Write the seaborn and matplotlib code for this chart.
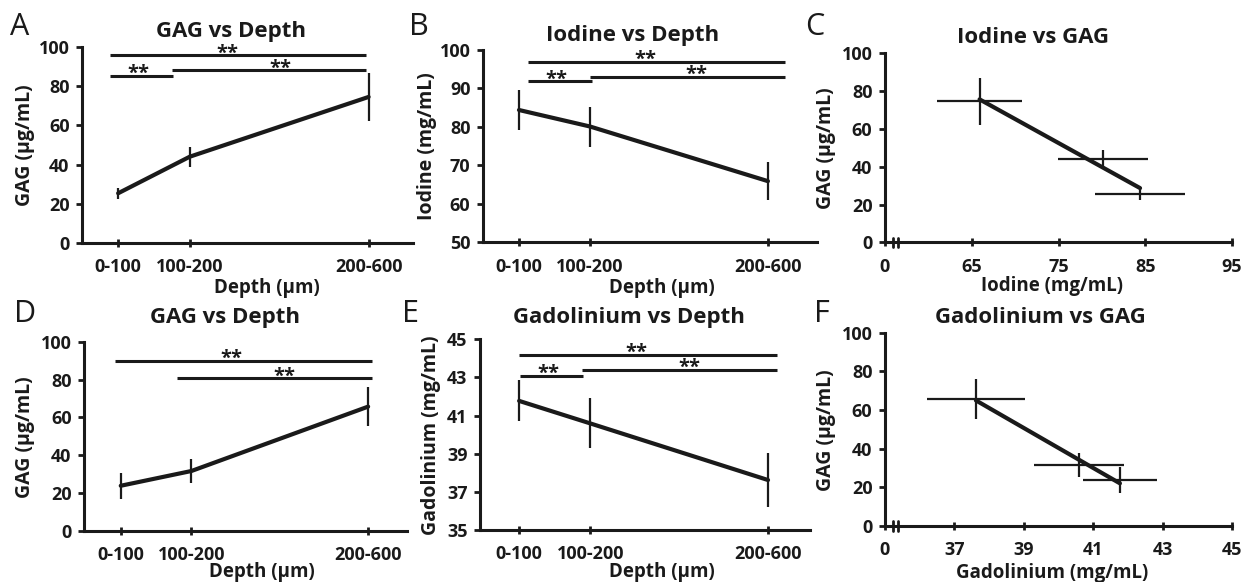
import matplotlib
matplotlib.use("Agg")
import matplotlib.pyplot as plt
import seaborn as sns

# ---------------------------------------------------------------------------
# Data
# ---------------------------------------------------------------------------

depth_labels = ["0-100", "100-200", "200-600"]
depth_mid = [50, 150, 400]          # interval midpoints, um

# iodine series (panels A-C)
gag_i = [25.3, 44.0, 74.6]
gag_i_err = [2.8, 5.1, 12.5]
iodine = [84.4, 80.1, 65.9]
iodine_err = [5.2, 5.2, 4.9]

# gadolinium series (panels D-F)
gag_g = [23.9, 31.7, 65.7]
gag_g_err = [6.8, 6.3, 10.3]
gad = [41.77, 40.59, 37.62]
gad_err = [1.07, 1.31, 1.41]

# significance brackets: (x from, x to, level, stars x)
sig_a = [(38, 397, 96.0, 202), (38, 126, 85.3, 78), (125, 397, 88.2, 276)]
sig_b = [(62, 424, 97.0, 227), (62, 152, 91.9, 103), (150, 424, 93.1, 300)]
sig_d = [(42, 405, 90.0, 207), (129, 405, 80.6, 282)]
sig_e = [(50, 412, 44.18, 215), (51, 140, 43.08, 91), (138, 412, 43.39, 290)]

gag_ticks = [0, 20, 40, 60, 80, 100]
iodine_depth_ticks = [50, 60, 70, 80, 90, 100]
gad_depth_ticks = [35, 37, 39, 41, 43, 45]
iodine_ticks = [55, 65, 75, 85, 95]
iodine_ticklabels = ["0", "65", "75", "85", "95"]
gad_ticks = [35, 37, 39, 41, 43, 45]
gad_ticklabels = ["0", "37", "39", "41", "43", "45"]

# ---------------------------------------------------------------------------
# Layout helpers (pixel coordinates of the 1248x582 picture)
# ---------------------------------------------------------------------------

W, H = 1248, 582
sns.set_theme(style="ticks")
plt.rcParams["font.family"] = ["Open Sans", "DejaVu Sans"]
plt.rcParams["font.weight"] = "bold"
plt.rcParams["axes.labelweight"] = "bold"
plt.rcParams["text.color"] = "k"
plt.rcParams["axes.labelcolor"] = "k"

fig = plt.figure(figsize=(W / 100, H / 100), dpi=100)


def add_axes(left, top, right, bottom):
    return fig.add_axes([left / W, 1 - bottom / H, (right - left) / W, (bottom - top) / H])


def fig_text(x, y, s, **kw):
    fig.text(x / W, 1 - y / H, s, **kw)


def style_axes(ax):
    for side in ("top", "right"):
        ax.spines[side].set_visible(False)
    for side in ("left", "bottom"):
        ax.spines[side].set_linewidth(2.2)
        ax.spines[side].set_color("k")
    ax.tick_params(axis="y", direction="out", length=4, width=2, pad=5,
                   labelsize=13, colors="k")
    ax.tick_params(axis="x", direction="inout", length=6, width=2, pad=8,
                   labelsize=13, colors="k")
    for lab in ax.get_xticklabels() + ax.get_yticklabels():
        lab.set_fontweight("bold")


def set_labels(ax, xlabel, ylabel, xpos, ypos):
    ax.set_xlabel(xlabel, fontsize=13.5, fontweight="bold", color="k")
    ax.set_ylabel(ylabel, fontsize=14, fontweight="bold", color="k")
    ax.xaxis.set_label_coords(xpos[0] / W, 1 - xpos[1] / H, transform=fig.transFigure)
    ax.xaxis.label.set_va("baseline")
    ax.yaxis.set_label_coords(ypos[0] / W, 1 - ypos[1] / H, transform=fig.transFigure)
    ax.yaxis.label.set_va("center")


def depth_panel(ax, y, yerr, sig, xlim, ylim, yticks):
    sns.lineplot(x=depth_mid, y=y, ax=ax, color="k", linewidth=3, errorbar=None)
    ax.errorbar(depth_mid, y, yerr=yerr, fmt="none", ecolor="k", elinewidth=1.6, capsize=0)
    for x0, x1, lvl, xs in sig:
        ax.plot([x0, x1], [lvl, lvl], color="k", lw=2.2, clip_on=False,
                solid_capstyle="butt")
        ax.annotate("**", (xs, lvl), xytext=(0, -2.4), textcoords="offset points",
                    ha="center", va="baseline", fontsize=14.5, fontweight="bold",
                    color="k", annotation_clip=False)
    ax.set_xlim(*xlim)
    ax.set_ylim(*ylim)
    ax.set_xticks(depth_mid, depth_labels)
    ax.set_yticks(yticks)
    style_axes(ax)


def scatter_panel(ax, x, xerr, y, yerr, xticks, xticklabels):
    sns.regplot(x=x, y=y, ax=ax, ci=None, scatter=False, truncate=True,
                line_kws=dict(color="k", lw=3))
    ax.errorbar(x, y, xerr=xerr, yerr=yerr, fmt="none", ecolor="k",
                elinewidth=1.6, capsize=0)
    ax.set_xlim(xticks[0], xticks[-1])
    ax.set_ylim(0, 100)
    ax.set_xticks(xticks, xticklabels)
    ax.set_yticks(gag_ticks)
    # axis break marks near the origin
    for fx in (0.023, 0.037):
        ax.plot([fx, fx], [-0.024, 0.024], transform=ax.transAxes, color="k",
                lw=2, clip_on=False)
    style_axes(ax)


# ---------------------------------------------------------------------------
# Panels
# ---------------------------------------------------------------------------

ax_a = add_axes(82, 47.3, 413, 242.7)
depth_panel(ax_a, gag_i, gag_i_err, sig_a, (-0.5, 462), (0, 100), gag_ticks)
set_labels(ax_a, "Depth (µm)", "GAG (µg/mL)", (267, 293), (25, 145))

ax_b = add_axes(483, 50, 817, 242.3)
depth_panel(ax_b, iodine, iodine_err, sig_b, (-0.6, 469), (50, 100), iodine_depth_ticks)
set_labels(ax_b, "Depth (µm)", "Iodine (mg/mL)", (662, 293), (427, 146))

ax_c = add_axes(885, 53.3, 1232, 242.3)
scatter_panel(ax_c, iodine, iodine_err, gag_i, gag_i_err, iodine_ticks, iodine_ticklabels)
set_labels(ax_c, "Iodine (mg/mL)", "GAG (µg/mL)", (1052, 291), (826, 148))

ax_d = add_axes(84, 341.7, 407, 531)
depth_panel(ax_d, gag_g, gag_g_err, sig_d, (-2, 455), (0, 100), gag_ticks)
set_labels(ax_d, "Depth (µm)", "GAG (µg/mL)", (262, 577), (25, 437))

ax_e = add_axes(480, 339.3, 810, 530)
depth_panel(ax_e, gad, gad_err, sig_e, (-5, 459), (35, 45), gad_depth_ticks)
set_labels(ax_e, "Depth (µm)", "Gadolinium (mg/mL)", (662, 577), (431, 435))

ax_f = add_axes(885, 332.7, 1232, 526)
scatter_panel(ax_f, gad, gad_err, gag_g, gag_g_err, gad_ticks, gad_ticklabels)
set_labels(ax_f, "Gadolinium (mg/mL)", "GAG (µg/mL)", (1052, 578), (826, 430))

# titles
for cx, base, title in [(231, 37.5, "GAG vs Depth"), (633, 40.7, "Iodine vs Depth"),
                        (1033, 43.3, "Iodine vs GAG"), (225, 323, "GAG vs Depth"),
                        (629, 323, "Gadolinium vs Depth"), (1040, 323, "Gadolinium vs GAG")]:
    fig_text(cx, base, title, ha="center", va="baseline", fontsize=16,
             fontweight="bold", color="k")

# panel letters
for lx, base, letter in [(10, 35, "A"), (409, 35, "B"), (805, 35, "C"),
                         (14, 321.7, "D"), (402, 321.7, "E"), (814, 321.7, "F")]:
    fig_text(lx, base, letter, ha="left", va="baseline", fontsize=22,
             fontweight="normal", color="k")

fig.savefig("out.png", dpi=100, facecolor="white")
